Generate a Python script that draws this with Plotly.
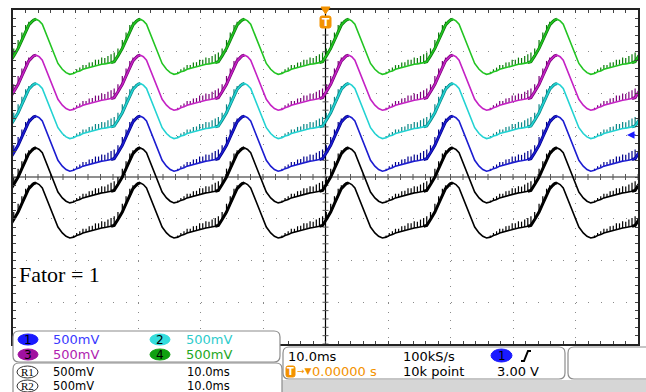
import plotly.graph_objects as go

W, H = 646, 392


def px(x):
    return x / W


def py(y):
    return 1 - y / H


period_ms = 16.67          # 60 Hz mains
first_peak_ms = 3.7        # first peak right of trigger
# one cycle, starting at a peak: phase (ms), drop below peak (V), noise spike height (V)
cycle_phase_ms = [0.0, 0.5, 1.0, 1.6, 2.2, 2.9, 3.5, 4.2, 4.8, 5.4, 6.0, 6.5, 7.0, 7.5, 8.0,
                  8.5, 9.0, 9.5, 10.0, 10.5, 11.0, 11.5, 12.0, 12.5, 13.1, 13.8, 14.4, 15.0,
                  15.5, 16.0, 16.3]
cycle_drop_v = [0.00, 0.02, 0.06, 0.17, 0.29, 0.41, 0.53, 0.60, 0.64, 0.66, 0.65, 0.63, 0.62,
                0.60, 0.59, 0.58, 0.565, 0.555, 0.545, 0.54, 0.535, 0.53, 0.52, 0.51, 0.44,
                0.35, 0.25, 0.14, 0.07, 0.03, 0.01]
cycle_spike_v = [0, 0, 0, 0, 0, 0, 0, 0, 0, 0, 0.02, 0.03, 0.04, 0.05, 0.04, 0.06, 0.05, 0.07,
                 0.06, 0.08, 0.07, 0.09, 0.10, 0.11, 0.09, 0.10, 0.09, 0.07, 0.04, 0.02, 0]
rise_start_ms = 12.0

channels = ["R2", "R1", "1", "2", "3", "4"]
peak_level_v = [-0.07, 0.35, 0.73, 1.12, 1.46, 1.89]
line_colors = ["#000000", "#000000", "#1c1cd0", "#22d2d2", "#c422c4", "#22c422"]
dark_colors = ["#000000", "#000000", "#00008c", "#0a8686", "#7a007a", "#0a7a0a"]

volts_per_div = 0.5
ms_per_div = 10.0

fig = go.Figure()

# graticule center lines
fig.add_trace(go.Scatter(x=[-5 * ms_per_div, 5 * ms_per_div], y=[0, 0], mode="lines",
                         line=dict(color="#8f8f8f", width=2), hoverinfo="skip"))
fig.add_trace(go.Scatter(x=[0, 0], y=[-4 * volts_per_div, 4 * volts_per_div], mode="lines",
                         line=dict(color="#000000", width=1.2), hoverinfo="skip"))
tx, ty = [], []
for i in range(-25, 26):
    t = i * ms_per_div / 5
    tx += [t, t, None]
    ty += [-0.036, 0.036, None]
for i in range(-20, 21):
    v = i * volts_per_div / 5
    tx += [-0.48, 0.48, None]
    ty += [v, v, None]
fig.add_trace(go.Scatter(x=tx, y=ty, mode="lines", line=dict(color="#555555", width=1),
                         hoverinfo="skip"))

# waveforms
for name, lvl, lc, dc in zip(channels, peak_level_v, line_colors, dark_colors):
    xs, ys, sx, sy, bx, by = [], [], [], [], [], []
    for k in range(-4, 4):
        t0 = first_peak_ms + k * period_ms
        for ph, d, s in zip(cycle_phase_ms, cycle_drop_v, cycle_spike_v):
            t = t0 + ph
            v = lvl - d
            xs.append(t)
            ys.append(v)
            if s > 0:
                sx += [t, t, None]
                sy += [v, v + s, None]
            if ph >= rise_start_ms:
                bx.append(t)
                by.append(v)
        bx.append(t0 + period_ms)
        by.append(lvl)
        bx.append(None)
        by.append(None)
    xs.append(first_peak_ms + 4 * period_ms)
    ys.append(lvl)
    fig.add_trace(go.Scatter(x=bx, y=by, mode="lines", line=dict(color=dc, width=3),
                             hoverinfo="skip"))
    fig.add_trace(go.Scatter(x=sx, y=sy, mode="lines", line=dict(color=dc, width=1.2),
                             hoverinfo="skip"))
    fig.add_trace(go.Scatter(x=xs, y=ys, mode="lines", name=name,
                             line=dict(color=lc, width=1.6), hoverinfo="skip"))

# ---------------- decorations ----------------
shapes = []
ann = []


def rrect(x0, y0, x1, y1, r, fill="white", line="#8c8c8c", lw=1.2):
    pts = [
        f"M{px(x0 + r)},{py(y0)}", f"L{px(x1 - r)},{py(y0)}",
        f"Q{px(x1)},{py(y0)} {px(x1)},{py(y0 + r)}", f"L{px(x1)},{py(y1 - r)}",
        f"Q{px(x1)},{py(y1)} {px(x1 - r)},{py(y1)}", f"L{px(x0 + r)},{py(y1)}",
        f"Q{px(x0)},{py(y1)} {px(x0)},{py(y1 - r)}", f"L{px(x0)},{py(y0 + r)}",
        f"Q{px(x0)},{py(y0)} {px(x0 + r)},{py(y0)}", "Z"]
    shapes.append(dict(type="path", xref="paper", yref="paper", path=" ".join(pts),
                       fillcolor=fill, line=dict(color=line, width=lw)))


def ellipse(x0, y0, x1, y1, fill, line=None):
    shapes.append(dict(type="circle", xref="paper", yref="paper", x0=px(x0), x1=px(x1),
                       y0=py(y1), y1=py(y0), fillcolor=fill,
                       line=dict(color=line or fill, width=1)))


def text(x, y, s, color="#000000", size=13, family="DejaVu Sans", anchor="left"):
    ann.append(dict(x=px(x), y=py(y), xref="paper", yref="paper", text=s, showarrow=False,
                    xanchor=anchor, yanchor="middle", borderpad=0,
                    font=dict(color=color, size=size, family=family)))


# bottom gray strip
shapes.append(dict(type="rect", xref="paper", yref="paper", x0=px(280), x1=px(646),
                   y0=py(392), y1=py(380), fillcolor="#d6d6d6", line=dict(width=0)))

# channel box
rrect(13, 331, 280, 362, 6)
rrect(13, 363, 282, 404, 6)
rrect(283, 347, 565, 379, 6)
rrect(568, 347, 656, 379, 6)

badge_cols = {"1": "#1a1aff", "2": "#33dddd", "3": "#a010a0", "4": "#10a010"}
text_cols = {"1": "#3a3aff", "2": "#2ecccc", "3": "#b01cb0", "4": "#1ea81e"}
for ch, bx0, by0, tx0 in [("1", 18, 334, 53), ("2", 150, 334, 186),
                          ("3", 18, 349, 53), ("4", 150, 349, 186)]:
    ellipse(bx0, by0, bx0 + 20, by0 + 11, badge_cols[ch])
    text(bx0 + 10, by0 + 5.5, ch, size=12, anchor="center")
    text(tx0 - 1, by0 + 5.5, "500mV", color=text_cols[ch])

for ref, yc in [("R1", 372), ("R2", 386)]:
    ellipse(17, yc - 6, 38, yc + 6, "white", line="#333333")
    text(27.5, yc, ref, size=11, family="Liberation Serif", anchor="center")
    text(52, yc, "500mV", size=11.5)
    text(186, yc, "10.0ms", size=11.5)

# timebase box
text(287, 356, "10.0ms")
text(402, 356, "100kS/s")
ellipse(491, 349, 512, 362, "#1a1aff")
text(501.5, 355.5, "1", size=12, anchor="center")
shapes.append(dict(type="path", xref="paper", yref="paper",
                   path=f"M{px(521)},{py(361)} L{px(524)},{py(361)} L{px(528)},{py(351)} L{px(531)},{py(351)}",
                   line=dict(color="#000000", width=2)))
rrect(286, 366, 295, 377, 2, fill="#f39200", line="#f39200", lw=1)
text(290.5, 371.5, "<b>T</b>", color="white", size=10, anchor="center")
text(296, 371, "→▼", color="#f39200", size=9)
text(311, 371, "0.00000 s", color="#f39200")
text(402, 371, "10k point")
text(496, 371, "3.00 V")

# trigger position marker
shapes.append(dict(type="path", xref="paper", yref="paper",
                   path=f"M{px(321)},{py(7)} L{px(330)},{py(7)} L{px(325.5)},{py(14)} Z",
                   fillcolor="#f39200", line=dict(color="#f39200", width=1)))
rrect(320, 16, 331, 28, 2, fill="#f39200", line="#f39200", lw=1)
text(325.5, 22, "<b>T</b>", color="white", size=11, anchor="center")

# trigger level arrow
ann.append(dict(x=px(627), y=py(135), xref="paper", yref="paper", ax=10, ay=0, text="",
                showarrow=True, arrowhead=2, arrowsize=1, arrowwidth=1.5,
                arrowcolor="#1a1aff"))

# label
text(18, 274, "Fator = 1", size=22, family="Liberation Serif")

fig.update_layout(
    width=W, height=H, margin=dict(l=0, r=0, t=0, b=0),
    paper_bgcolor="white", plot_bgcolor="white", showlegend=False,
    shapes=shapes, annotations=ann,
    xaxis=dict(domain=[px(13), px(638)], range=[-5 * ms_per_div, 5 * ms_per_div],
               tick0=0, dtick=ms_per_div, showgrid=True, gridcolor="#8a8a8a",
               griddash="1px,7.375px", gridwidth=1, ticks="inside", ticklen=3,
               tickcolor="#444444",
               minor=dict(dtick=ms_per_div / 5, ticks="inside", ticklen=3,
                          tickcolor="#444444", showgrid=False),
               showline=True, linecolor="#222222", linewidth=1.5, mirror="ticks",
               showticklabels=False, zeroline=False, fixedrange=True),
    yaxis=dict(domain=[py(344), py(10)], range=[-4 * volts_per_div, 4 * volts_per_div],
               tick0=0, dtick=volts_per_div, showgrid=True, gridcolor="#8a8a8a",
               griddash="1px,11.5px", gridwidth=1, ticks="inside", ticklen=3,
               tickcolor="#444444",
               minor=dict(dtick=volts_per_div / 5, ticks="inside", ticklen=3,
                          tickcolor="#444444", showgrid=False),
               showline=True, linecolor="#222222", linewidth=1.5, mirror="ticks",
               showticklabels=False, zeroline=False, fixedrange=True),
)

fig.write_html("out.html", config={"displayModeBar": False})
